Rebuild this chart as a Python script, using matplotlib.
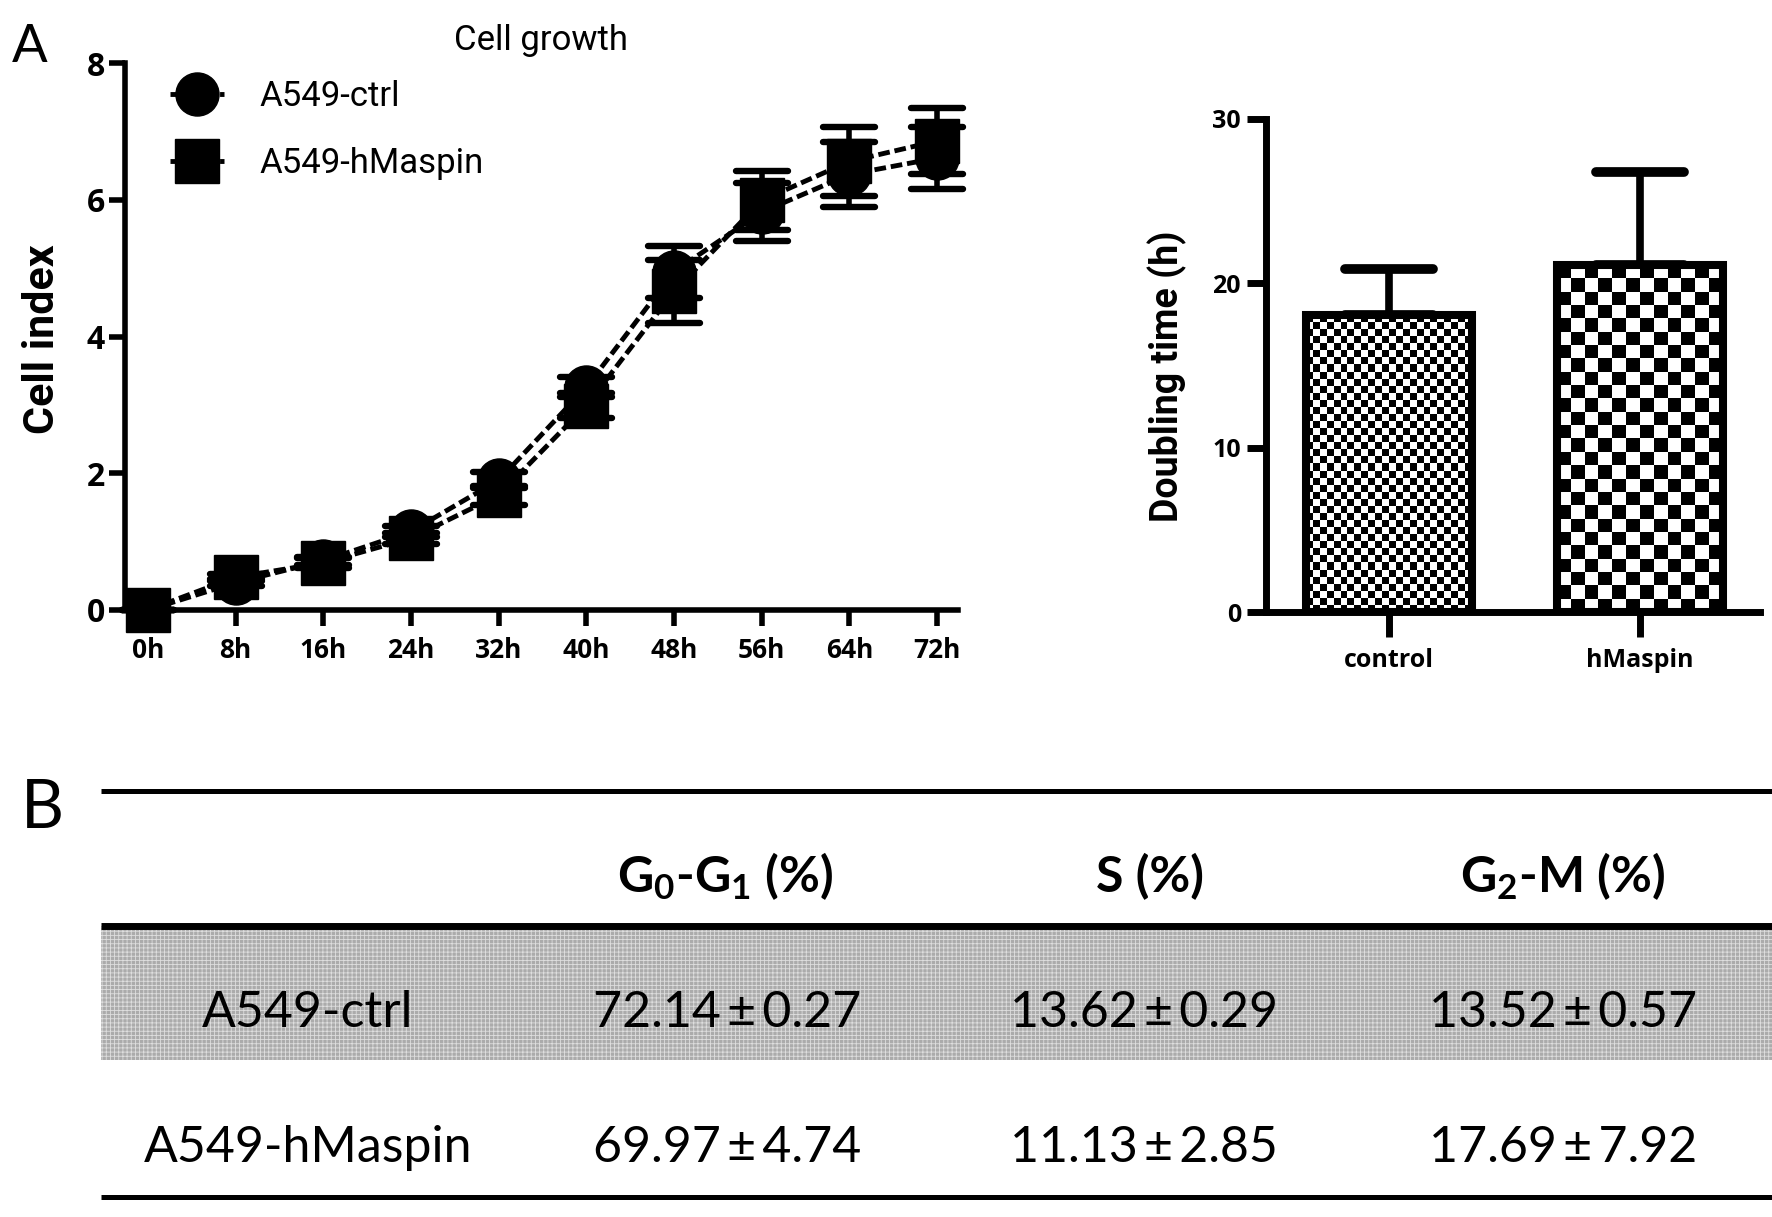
import numpy as np
import matplotlib
matplotlib.use('Agg')
import matplotlib.pyplot as plt
from matplotlib.markers import MarkerStyle
from matplotlib.patches import Rectangle

# growth curve (cell index), panel A left
hours = [0, 8, 16, 24, 32, 40, 48, 56, 64, 72]
ctrl_idx = [0.0, 0.40, 0.72, 1.15, 1.90, 3.26, 4.95, 5.82, 6.37, 6.61]
ctrl_sd = [0.0, 0.05, 0.06, 0.08, 0.12, 0.15, 0.38, 0.43, 0.47, 0.46]
hmas_idx = [0.0, 0.48, 0.69, 1.05, 1.68, 2.99, 4.66, 5.99, 6.56, 6.86]
hmas_sd = [0.0, 0.05, 0.07, 0.08, 0.14, 0.18, 0.46, 0.43, 0.51, 0.48]

# doubling time, panel A right
groups = ['control', 'hMaspin']
dbl_time = [18.05, 21.1]
dbl_sd = [2.8, 5.7]

# cell cycle table, panel B
rows = ['A549-ctrl', 'A549-hMaspin']
cols = ['G$_0$-G$_1$ (%)', 'S (%)', 'G$_2$-M (%)']
g01_mean = [72.14, 69.97]
g01_sd = [0.27, 4.74]
s_mean = [13.62, 11.13]
s_sd = [0.29, 2.85]
g2m_mean = [13.52, 17.69]
g2m_sd = [0.57, 7.92]

W, H = 1772, 1217
NARROW = ['Roboto', 'DejaVu Sans']
TABLE = ['Lato', 'DejaVu Sans']

plt.rcParams['font.family'] = ['Open Sans', 'DejaVu Sans']
plt.rcParams['font.weight'] = 'bold'
plt.rcParams['mathtext.fontset'] = 'custom'
plt.rcParams['mathtext.rm'] = 'Lato'
plt.rcParams['mathtext.it'] = 'Lato:italic'
plt.rcParams['mathtext.bf'] = 'Lato:bold'
plt.rcParams['hatch.linewidth'] = 0.6

fig = plt.figure(figsize=(W / 100, H / 100), dpi=100)


def round_caps(container):
    for cl in container[1]:
        cl.set_marker(MarkerStyle('_', capstyle='round'))


# ---- table (B) drawn in pixel coords on a full figure axes
tax = fig.add_axes([0, 0, 1, 1])
tax.set_xlim(0, W)
tax.set_ylim(H, 0)
tax.axis('off')
tax.add_patch(Rectangle((101, 926), W - 101, 134, facecolor='#ababab',
                        hatch='++++', edgecolor='#dedede', lw=0, zorder=1))
tax.hlines([791, 1197], 101, W, color='k', lw=3.6, zorder=2)
tax.hlines(926, 101, W, color='k', lw=5, zorder=2)

col_x = [308, 727, 1144, 1563]
head_x = [725, 1150, 1562]
for x, c in zip(head_x, cols):
    tax.text(x, 892, c, ha='center', va='baseline', fontsize=36,
             family=TABLE, weight='bold')
row_base = [1027, 1162]
for i, name in enumerate(rows):
    tax.text(col_x[0], row_base[i], name, ha='center', va='baseline',
             fontsize=36, family=TABLE, weight='normal')
    vals = [(g01_mean[i], g01_sd[i]), (s_mean[i], s_sd[i]), (g2m_mean[i], g2m_sd[i])]
    for x, (m, s) in zip(col_x[1:], vals):
        tax.text(x, row_base[i], f'{m:.2f}\u2009\u00b1\u2009{s:.2f}', ha='center',
                 va='baseline', fontsize=36, family=TABLE, weight='normal')

# ---- cell growth curve
ax1 = fig.add_axes([125 / W, 1 - 610 / H, (958 - 125) / W, (610 - 63) / H])
for y, sd, mk, lab in [(ctrl_idx, ctrl_sd, 'o', 'A549-ctrl'),
                       (hmas_idx, hmas_sd, 's', 'A549-hMaspin')]:
    eb = ax1.errorbar(hours, y, yerr=sd, fmt='none', ecolor='k', elinewidth=4,
                      capsize=18.7, capthick=4.6, zorder=3, clip_on=False)
    round_caps(eb)
    ax1.plot(hours, y, color='k', lw=3.5, ls='--', dashes=(2.4, 1.0),
             marker=mk, ms=31, label=lab, zorder=4, clip_on=False)

ax1.set_xlim(-2.1, 73.9)
ax1.set_ylim(0, 8)
ax1.set_xticks(hours)
ax1.set_xticklabels([f'{h}h' for h in hours])
ax1.set_yticks([0, 2, 4, 6, 8])
for s in ['top', 'right']:
    ax1.spines[s].set_visible(False)
for s in ['left', 'bottom']:
    ax1.spines[s].set_linewidth(4)
ax1.tick_params(axis='both', length=11.5, width=4)
ax1.tick_params(axis='x', pad=8, labelsize=19)
ax1.tick_params(axis='y', pad=3, labelsize=23)
ax1.set_facecolor('none')

leg = ax1.legend(loc='upper left', bbox_to_anchor=(170 / W, 1 - 80 / H),
                 bbox_transform=fig.transFigure, frameon=False, borderpad=0,
                 borderaxespad=0, handlelength=1.55, handletextpad=1.04,
                 labelspacing=0.98, prop={'family': NARROW, 'weight': 'normal', 'size': 25})

fig.text(43 / W, 1 - 339 / H, 'Cell index', rotation=90, ha='center', va='center',
         fontsize=31, family=NARROW, weight='bold')
fig.text(541 / W, 1 - 50 / H, 'Cell growth', ha='center', va='baseline',
         fontsize=25, family=NARROW, weight='normal')

# ---- doubling time bars
ax2 = fig.add_axes([1266 / W, 1 - 612 / H, (1760 - 1266) / W, (612 - 119) / H])
ax2.set_xlim(-0.49, 1.478)
ax2.set_ylim(0, 30)
xpos = np.arange(len(groups))
bars = ax2.bar(xpos, dbl_time, width=0.66, facecolor='none', edgecolor='k',
               lw=5.8, zorder=3)
eb = ax2.errorbar(xpos, dbl_time, yerr=[[0] * len(dbl_sd), dbl_sd], fmt='none',
                  ecolor='k', elinewidth=5.5, capsize=32, capthick=7, zorder=2)
round_caps(eb)

# checkerboard fills, fine for control and coarse for hMaspin
for bar, cell_px in zip(bars, [7.0, 13.5]):
    x0, y0 = bar.get_xy()
    w, h = bar.get_width(), bar.get_height()
    p0 = ax2.transData.transform((x0, y0))
    p1 = ax2.transData.transform((x0 + w, y0 + h))
    nx = max(1, int(round((p1[0] - p0[0]) / cell_px)))
    ny = max(1, int(round((p1[1] - p0[1]) / cell_px)))
    board = np.indices((ny, nx)).sum(axis=0) % 2
    ax2.imshow(board, cmap='gray', extent=(x0, x0 + w, y0, y0 + h),
               interpolation='nearest', aspect='auto', zorder=2.5)

ax2.set_xlim(-0.49, 1.478)
ax2.set_ylim(0, 30)
ax2.set_xticks(xpos)
ax2.set_xticklabels(groups)
ax2.set_yticks([0, 10, 20, 30])
for s in ['top', 'right']:
    ax2.spines[s].set_visible(False)
for s in ['left', 'bottom']:
    ax2.spines[s].set_linewidth(5)
ax2.tick_params(axis='y', length=14, width=5, labelsize=18, pad=4)
ax2.tick_params(axis='x', length=18, width=5, labelsize=18, pad=8)
ax2.set_facecolor('none')

fig.text(1167 / W, 1 - 376 / H, 'Doubling time (h)', rotation=90, ha='center',
         va='center', fontsize=27, family=NARROW, weight='bold')

# panel letters
fig.text(30 / W, 1 - 62 / H, 'A', ha='center', va='baseline', fontsize=38,
         family=TABLE, weight='normal')
fig.text(42 / W, 1 - 828 / H, 'B', ha='center', va='baseline', fontsize=48,
         family=TABLE, weight='normal')

fig.savefig('out.png', dpi=100)
